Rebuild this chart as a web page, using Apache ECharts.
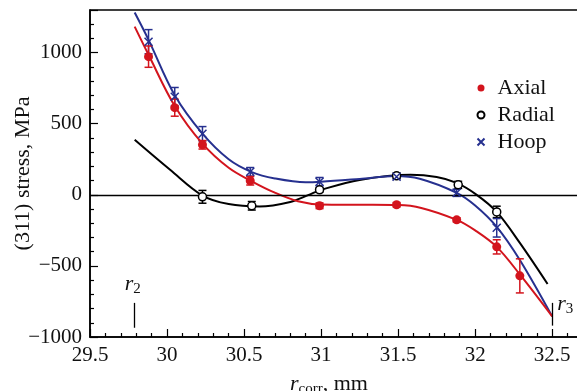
<!DOCTYPE html>
<html>
<head>
<meta charset="utf-8">
<script src="https://cdn.jsdelivr.net/npm/echarts@6/dist/echarts.min.js"></script>
<style>
  html, body { margin: 0; padding: 0; background: #fff; }
  #chart { width: 577px; height: 391px; }
</style>
</head>
<body>
<div id="chart"></div>
<script>
// measured points: x (mm), stress (MPa), error (MPa)
const axialX = [29.88, 30.05, 30.23, 30.54, 30.99, 31.49, 31.88, 32.14, 32.29];
const axialY = [972, 613, 352, 99, -77, -70, -176, -366, -570];
const axialErr = [75, 60, 30, 30, 20, 15, 15, 50, 120];

const radialX = [30.23, 30.55, 30.99, 31.49, 31.89, 32.14];
const radialY = [-14, -77, 35, 134, 70, -120];
const radialErr = [45, 30, 15, 20, 25, 40];

const hoopX = [29.88, 30.05, 30.23, 30.54, 30.99, 31.49, 31.88, 32.14];
const hoopY = [1077, 690, 430, 162, 92, 127, 14, -232];
const hoopErr = [85, 65, 50, 30, 30, 15, 25, 65];

// fitted curves
const axialFitX = [29.79, 29.88, 30.05, 30.23, 30.4, 30.55, 30.7, 30.85, 31.0, 31.25, 31.5, 31.65, 31.88, 32.0, 32.14, 32.29, 32.5];
const axialFitY = [1183, 985, 625, 360, 190, 95, 15, -45, -68, -70, -72, -92, -176, -250, -366, -560, -855];

const hoopFitX = [29.79, 29.88, 30.05, 30.23, 30.4, 30.55, 30.7, 30.9, 31.0, 31.25, 31.48, 31.64, 31.88, 32.0, 32.14, 32.29, 32.5];
const hoopFitY = [1282, 1090, 700, 430, 250, 160, 115, 88, 92, 112, 132, 113, 14, -75, -225, -458, -855];

const radialFitX = [29.79, 30.02, 30.23, 30.4, 30.6, 30.8, 30.92, 31.0, 31.25, 31.58, 31.75, 31.88, 32.01, 32.14, 32.29, 32.47];
const radialFitY = [387, 176, -5, -65, -82, -50, 0, 35, 105, 141, 125, 84, 0, -120, -338, -627];

// r2 / r3 markers
const markerX = [29.79, 32.5];
const markerLow = [-935, -920];
const markerHigh = [-760, -760];

const RED = "#d3141d";
const BLUE = "#26308f";
const BLACK = "#000";
const FONT = "Liberation Serif";

const zip = (xs, ys) => xs.map((x, i) => [x, ys[i]]);
const zip3 = (xs, ys, es) => xs.map((x, i) => [x, ys[i], es[i]]);

const chart = echarts.init(document.getElementById("chart"));

const errorBars = (name, data, color) => ({
  name: name + "-err",
  type: "custom",
  data,
  z: 3,
  renderItem: (params, api) => {
    const x = api.value(0), y = api.value(1), e = api.value(2);
    const top = api.coord([x, y + e]);
    const bot = api.coord([x, y - e]);
    const w = 4;
    const style = { stroke: color, lineWidth: 1.5 };
    return {
      type: "group",
      children: [
        { type: "line", shape: { x1: top[0], y1: top[1], x2: bot[0], y2: bot[1] }, style },
        { type: "line", shape: { x1: top[0] - w, y1: top[1], x2: top[0] + w, y2: top[1] }, style },
        { type: "line", shape: { x1: bot[0] - w, y1: bot[1], x2: bot[0] + w, y2: bot[1] }, style },
      ],
    };
  },
});

const fitLine = (data, color) => ({
  type: "line",
  data,
  smooth: 0.35,
  showSymbol: false,
  silent: true,
  z: 2,
  lineStyle: { color, width: 2 },
});

const minus = (v) => String(v).replace("-", "\u2212");

const sub = {
  i: { fontFamily: FONT, fontStyle: "italic", fontSize: 22, fill: "#111", lineHeight: 26 },
  s: { fontFamily: FONT, fontSize: 15, fill: "#111", padding: [10, 0, 0, 0] },
  n: { fontFamily: FONT, fontSize: 22, fill: "#111", lineHeight: 26 },
};

const option = {
  animation: false,
  backgroundColor: "#fff",
  textStyle: { fontFamily: FONT },
  grid: {
    left: 90,
    right: -6,
    top: 10,
    bottom: 54,
    outerBoundsMode: "none",
    containLabel: false,
    show: true,
    borderColor: "#000",
    borderWidth: 1.5,
  },
  legend: {
    data: ["Axial", "Radial", "Hoop"],
    orient: "vertical",
    left: 470,
    top: 72,
    itemWidth: 7,
    itemHeight: 7,
    itemGap: 5,
    textStyle: { fontFamily: FONT, fontSize: 22, color: "#111", padding: [0, 0, 0, 8] },
  },
  xAxis: {
    type: "value",
    min: 29.5,
    max: 32.7,
    interval: 0.5,
    axisLine: { onZero: false, lineStyle: { color: "#000", width: 1.5 } },
    axisTick: { inside: true, length: 8, lineStyle: { color: "#000", width: 1.2 } },
    minorTick: { show: true, splitNumber: 5, length: 4, lineStyle: { color: "#000", width: 1.2 } },
    splitLine: { show: false },
    axisLabel: {
      fontFamily: FONT,
      fontSize: 21,
      color: "#111",
      margin: 8,
      formatter: (v) => (Math.abs(v - 32.7) < 1e-6 ? "" : String(+v.toFixed(1))),
    },
  },
  yAxis: {
    type: "value",
    min: -1000,
    max: 1300,
    interval: 500,
    name: "(311) stress, MPa",
    nameLocation: "middle",
    nameGap: 56,
    nameMoveOverlap: false,
    nameTextStyle: { fontFamily: FONT, fontSize: 22, color: "#111" },
    axisLine: { onZero: false, lineStyle: { color: "#000", width: 1.5 } },
    axisTick: { inside: true, length: 8, lineStyle: { color: "#000", width: 1.2 } },
    minorTick: { show: true, splitNumber: 5, length: 4, lineStyle: { color: "#000", width: 1.2 } },
    splitLine: { show: false },
    axisLabel: {
      fontFamily: FONT,
      fontSize: 21,
      color: "#111",
      margin: 8,
      formatter: (v) => (v === 1300 ? "" : minus(v)),
    },
  },
  graphic: [
    {
      type: "text",
      left: 239,
      top: 20,
      style: { text: "Cross section Ti\u2013SS", font: `22px "${FONT}"`, fill: "#111" },
    },
    {
      type: "text",
      left: 238,
      top: 46,
      style: { text: "{i|d}{s|0}{n| = 1.083670(30) A}", rich: sub },
    },
    {
      type: "text",
      left: 290,
      top: 373,
      style: { text: "{i|r}{s|corr}{n|, mm}", rich: sub },
    },
  ],
  series: [
    fitLine(zip(radialFitX, radialFitY), BLACK),
    fitLine(zip(hoopFitX, hoopFitY), BLUE),
    fitLine(zip(axialFitX, axialFitY), RED),
    {
      type: "line",
      data: [],
      silent: true,
      markLine: {
        silent: true,
        symbol: "none",
        label: { show: false },
        lineStyle: { color: "#000", width: 1.3, type: "solid" },
        data: [
          [{ coord: [29.5, 0] }, { coord: [32.7, 0] }],
          ...markerX.map((x, i) => [{ coord: [x, markerLow[i]] }, { coord: [x, markerHigh[i]] }]),
        ],
      },
    },
    errorBars("Radial", zip3(radialX, radialY, radialErr), BLACK),
    errorBars("Hoop", zip3(hoopX, hoopY, hoopErr), BLUE),
    errorBars("Axial", zip3(axialX, axialY, axialErr), RED),
    {
      name: "Axial",
      type: "scatter",
      data: zip(axialX, axialY),
      symbol: "circle",
      symbolSize: 9,
      z: 5,
      itemStyle: { color: RED, opacity: 1 },
    },
    {
      name: "Radial",
      type: "scatter",
      data: zip(radialX, radialY),
      symbol: "circle",
      symbolSize: 8,
      z: 5,
      itemStyle: { color: "#fff", borderColor: BLACK, borderWidth: 1.5, opacity: 1 },
    },
    {
      name: "Hoop",
      type: "scatter",
      data: zip(hoopX, hoopY),
      symbol: "path://M0,0L10,10M10,0L0,10",
      symbolSize: 8,
      z: 5,
      itemStyle: { color: "none", borderColor: BLUE, borderWidth: 1.5, opacity: 1 },
    },
  ],
};

chart.setOption(option);

// r2 / r3 labels next to the marker segments
const p2 = chart.convertToPixel({ gridIndex: 0 }, [markerX[0], markerHigh[0]]);
const p3 = chart.convertToPixel({ gridIndex: 0 }, [markerX[1], markerHigh[1]]);
chart.setOption({
  graphic: [
    { type: "text", left: p2[0] - 10, top: p2[1] - 30, style: { text: "{i|r}{s|2}", rich: sub } },
    { type: "text", left: p3[0] + 5, top: p3[1] - 10, style: { text: "{i|r}{s|3}", rich: sub } },
  ],
});
</script>
</body>
</html>
